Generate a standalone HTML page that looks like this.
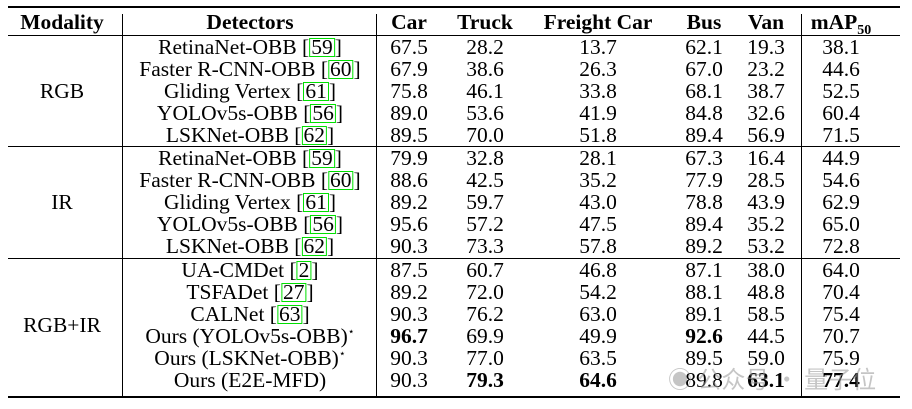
<!DOCTYPE html>
<html><head><meta charset="utf-8"><style>
body{margin:0;background:#fff;width:912px;height:409px;overflow:hidden;position:relative;font-family:"Liberation Serif",serif;color:#000}
.t{position:absolute;font-size:21.5px;white-space:nowrap;transform:translateX(-50%);line-height:22px;height:22px}
.h{font-weight:bold}
.b{font-weight:bold}
.ln{position:absolute;background:#000}
.ref{border:1.5px solid #00e000;padding:0 1px;line-height:17px;display:inline-block}
.st{position:relative;top:-8px;font-size:11px;line-height:0}
.sb{position:relative;top:5px;font-size:14px;line-height:0}
.wm{position:absolute;left:668px;top:360px;font-family:"Noto Sans CJK SC",sans-serif;font-size:24px;color:rgba(150,150,150,0.55);white-space:nowrap}
</style></head><body>
<div class="ln" style="left:8px;top:6px;width:892px;height:2px"></div>
<div class="ln" style="left:8px;top:35px;width:892px;height:1px"></div>
<div class="ln" style="left:8px;top:146px;width:892px;height:1px"></div>
<div class="ln" style="left:8px;top:258px;width:892px;height:1px"></div>
<div class="ln" style="left:8px;top:396px;width:892px;height:2px"></div>
<div class="ln" style="left:122px;top:14px;width:1px;height:382px"></div>
<div class="ln" style="left:376px;top:14px;width:1px;height:382px"></div>
<div class="ln" style="left:801px;top:14px;width:1px;height:382px"></div>
<div id="tbl"></div>
<div class="wm">◉ 公众号 · 量子位</div>
<script>
const headers=["Modality","Detectors","Car","Truck","Freight Car","Bus","Van","mAP<span class='sb'>50</span>"];
const cx=[62,250,409,485,598,704,766,841];
const detectors=["RetinaNet-OBB [<span class='ref'>59</span>]","Faster R-CNN-OBB [<span class='ref'>60</span>]","Gliding Vertex [<span class='ref'>61</span>]","YOLOv5s-OBB [<span class='ref'>56</span>]","LSKNet-OBB [<span class='ref'>62</span>]",
"RetinaNet-OBB [<span class='ref'>59</span>]","Faster R-CNN-OBB [<span class='ref'>60</span>]","Gliding Vertex [<span class='ref'>61</span>]","YOLOv5s-OBB [<span class='ref'>56</span>]","LSKNet-OBB [<span class='ref'>62</span>]",
"UA-CMDet [<span class='ref'>2</span>]","TSFADet [<span class='ref'>27</span>]","CALNet [<span class='ref'>63</span>]","Ours (YOLOv5s-OBB)<span class='st'>⋆</span>","Ours (LSKNet-OBB)<span class='st'>⋆</span>","Ours (E2E-MFD)"];
const values=[
["67.5","28.2","13.7","62.1","19.3","38.1"],["67.9","38.6","26.3","67.0","23.2","44.6"],["75.8","46.1","33.8","68.1","38.7","52.5"],["89.0","53.6","41.9","84.8","32.6","60.4"],["89.5","70.0","51.8","89.4","56.9","71.5"],
["79.9","32.8","28.1","67.3","16.4","44.9"],["88.6","42.5","35.2","77.9","28.5","54.6"],["89.2","59.7","43.0","78.8","43.9","62.9"],["95.6","57.2","47.5","89.4","35.2","65.0"],["90.3","73.3","57.8","89.2","53.2","72.8"],
["87.5","60.7","46.8","87.1","38.0","64.0"],["89.2","72.0","54.2","88.1","48.8","70.4"],["90.3","76.2","63.0","89.1","58.5","75.4"],["96.7","69.9","49.9","92.6","44.5","70.7"],["90.3","77.0","63.5","89.5","59.0","75.9"],["90.3","79.3","64.6","89.8","63.1","77.4"]];
const bold=["13-0","13-3","15-1","15-2","15-4","15-5"];
const rowY=[47,69,91,113,135,158,180,202,224,246,270,292,314,336,358,380];
const groups=[["RGB",91],["IR",202],["RGB+IR",325]];
const T=document.getElementById('tbl');
function add(html,x,y,cls,name){const d=document.createElement('div');d.className='t '+cls;d.style.left=x+'px';d.style.top=(y-11)+'px';d.innerHTML=html;


T.appendChild(d);}
headers.forEach((h,i)=>add(h,cx[i],22,'h','header-'+i));
groups.forEach(g=>add(g[0],cx[0],g[1],'','modality-'+g[0].toLowerCase().replace('+','-')));
detectors.forEach((d,r)=>{add(d,cx[1],rowY[r],'','detector-name');
values[r].forEach((v,c)=>add(v,cx[c+2],rowY[r],bold.includes(r+'-'+c)?'b':'','cell-value'));});
</script>
</body></html>
